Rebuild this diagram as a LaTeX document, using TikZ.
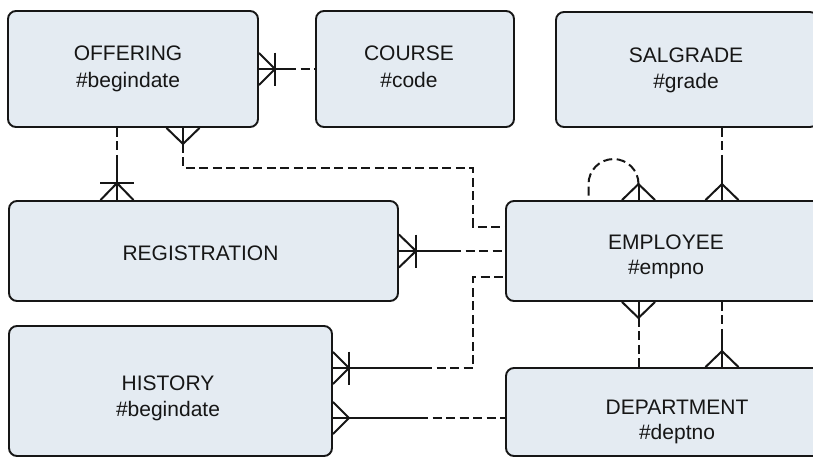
\documentclass[tikz,border=0pt]{standalone}
\usepackage{fontspec}
\setmainfont{Liberation Sans}
\usetikzlibrary{calc}
\definecolor{entfill}{RGB}{228,235,242}
\definecolor{inkc}{RGB}{22,22,22}
\begin{document}
\begin{tikzpicture}[x=1pt,y=-1pt,
  ent/.style={draw=inkc, fill=entfill, rounded corners=8pt, line width=1.9pt, inner sep=0pt},
  solidc/.style={draw=inkc, line width=2pt},
  dashc/.style={draw=inkc, line width=2pt, dash pattern=on 9pt off 4.5pt},
  txt/.style={font=\fontsize{21}{26}\selectfont, text=inkc, anchor=base, inner sep=0pt}]
\path[use as bounding box] (0,0) rectangle (813,458);
\clip (0,0) rectangle (813,458);
% entities
\node[ent, minimum width=250pt, minimum height=116pt] (off) at (133,69) {};
\node[ent, minimum width=198pt, minimum height=116pt] (crs) at (415,69) {};
\node[ent, minimum width=262pt, minimum height=115pt] (sal) at (687,69.5) {};
\node[ent, minimum width=389pt, minimum height=100pt] (reg) at (203.5,251) {};
\node[ent, minimum width=322pt, minimum height=100pt] (emp) at (667,251) {};
\node[ent, minimum width=323pt, minimum height=130pt] (his) at (170.5,391) {};
\node[ent, minimum width=342pt, minimum height=88pt] (dep) at (677,412) {};
% labels
\node[txt] (offT) at (128,60.7) {OFFERING};
\node[txt] (offK) at (128,87.3) {\#begindate};
\node[txt] (crsT) at (409,60.7) {COURSE};
\node[txt] (crsK) at (409,87.3) {\#code};
\node[txt] (salT) at (686,62) {SALGRADE};
\node[txt] (salK) at (686,88) {\#grade};
\node[txt] (regT) at (200.5,260) {REGISTRATION};
\node[txt] (empT) at (666,249) {EMPLOYEE};
\node[txt] (empK) at (666,274.5) {\#empno};
\node[txt] (hisT) at (168,390) {HISTORY};
\node[txt] (hisK) at (168,416.5) {\#begindate};
\node[txt] (depT) at (677,414) {DEPARTMENT};
\node[txt] (depK) at (677,439.5) {\#deptno};
% OFFERING -- COURSE
\coordinate (oc) at ($(off.east)!0.5!(crs.west)$);
\draw[solidc] (off.east) -- (oc);
\draw[dashc] (oc) -- (crs.west);
\draw[solidc] ($(off.east)+(0,-16)$) -- ($(off.east)+(16,0)$) -- ($(off.east)+(0,16)$);
\draw[solidc] ($(off.east)+(16,-16.5)$) -- ($(off.east)+(16,16.5)$);
% OFFERING -- REGISTRATION
\coordinate (or1) at (117,0 |- off.south);
\coordinate (or2) at (117,0 |- reg.north);
\coordinate (orm) at ($(or1)!0.5!(or2)$);
\draw[dashc] (or1) -- (orm);
\draw[solidc] (orm) -- (or2);
\draw[solidc] ($(or2)+(-16.5,0)$) -- ($(or2)+(0,-17)$) -- ($(or2)+(16.5,0)$);
\draw[solidc] ($(or2)+(-17,-17)$) -- ($(or2)+(17,-17)$);
% OFFERING -- EMPLOYEE
\coordinate (oe1) at (183,0 |- off.south);
\coordinate (oe2) at (506,227);
\draw[solidc] ($(oe1)+(-16.5,0)$) -- ($(oe1)+(0,16)$) -- ($(oe1)+(16.5,0)$);
\draw[solidc] (oe1) -- ($(oe1)+(0,16)$);
\draw[dashc] ($(oe1)+(0,16)$) -- (183,168) -- (473,168) -- (473,227) -- (emp.west |- oe2);
% REGISTRATION -- EMPLOYEE
\coordinate (re) at ($(reg.east)!0.5!(emp.west)$);
\draw[solidc] (reg.east) -- (re);
\draw[dashc] (re) -- (emp.west);
\draw[solidc] ($(reg.east)+(0,-16.5)$) -- ($(reg.east)+(17,0)$) -- ($(reg.east)+(0,16.5)$);
\draw[solidc] ($(reg.east)+(17,-16.5)$) -- ($(reg.east)+(17,16.5)$);
% HISTORY -- EMPLOYEE
\coordinate (he1) at (his.east |- 0,368);
\coordinate (he2) at (emp.west |- 0,277);
\draw[solidc] (he1) -- (423,368);
\draw[dashc] (423,368) -- (473,368) -- (473,277) -- (he2);
\draw[solidc] ($(he1)+(0,-16)$) -- ($(he1)+(16,0)$) -- ($(he1)+(0,16)$);
\draw[solidc] ($(he1)+(16,-16.5)$) -- ($(he1)+(16,16.5)$);
% HISTORY -- DEPARTMENT
\coordinate (hd1) at (his.east |- 0,418);
\coordinate (hd2) at (dep.west |- 0,418);
\coordinate (hdm) at ($(hd1)!0.5!(hd2)$);
\draw[solidc] (hd1) -- (hdm);
\draw[dashc] (hdm) -- (hd2);
\draw[solidc] ($(hd1)+(0,-16)$) -- ($(hd1)+(16,0)$) -- ($(hd1)+(0,16)$);
% EMPLOYEE self relation
\coordinate (ee) at (638.5,0 |- emp.north);
\draw[solidc] ($(ee)+(-16.5,0)$) -- ($(ee)+(0,-16)$) -- ($(ee)+(16.5,0)$);
\draw[solidc] (ee) -- ($(ee)+(0,-16)$);
\draw[dashc] ($(ee)+(0,-16)$) arc[start angle=0, end angle=180, radius=25pt] -- ($(ee)+(-50,0)$);
% SALGRADE -- EMPLOYEE
\coordinate (se1) at (722,0 |- sal.south);
\coordinate (se2) at (722,0 |- emp.north);
\coordinate (sem) at ($(se1)!0.5!(se2)$);
\draw[dashc] (se1) -- (sem);
\draw[solidc] (sem) -- (se2);
\draw[solidc] ($(se2)+(-16.5,0)$) -- ($(se2)+(0,-16)$) -- ($(se2)+(16.5,0)$);
% EMPLOYEE -- DEPARTMENT (left)
\coordinate (ed1) at (638.5,0 |- emp.south);
\coordinate (ed2) at (638.5,0 |- dep.north);
\draw[solidc] ($(ed1)+(-16.5,0)$) -- ($(ed1)+(0,16)$) -- ($(ed1)+(16.5,0)$);
\draw[solidc] (ed1) -- ($(ed1)+(0,16)$);
\draw[dashc] ($(ed1)+(0,16)$) -- (ed2);
% EMPLOYEE -- DEPARTMENT (right)
\coordinate (dd1) at (722,0 |- emp.south);
\coordinate (dd2) at (722,0 |- dep.north);
\coordinate (ddm) at ($(dd1)!0.5!(dd2)$);
\draw[dashc] (dd1) -- (ddm);
\draw[solidc] (ddm) -- (dd2);
\draw[solidc] ($(dd2)+(-16.5,0)$) -- ($(dd2)+(0,-16)$) -- ($(dd2)+(16.5,0)$);
\end{tikzpicture}
\end{document}
